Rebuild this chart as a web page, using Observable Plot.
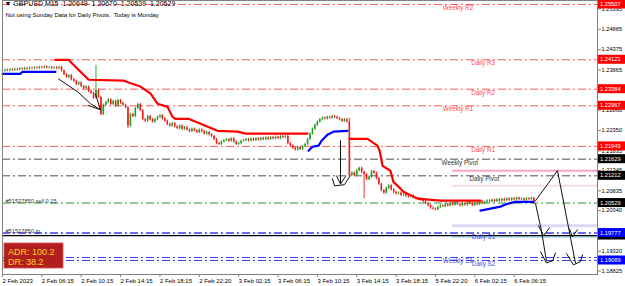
<!DOCTYPE html>
<html><head><meta charset="utf-8">
<script src="https://cdn.jsdelivr.net/npm/d3@7"></script>
<script src="https://cdn.jsdelivr.net/npm/@observablehq/plot@0.6"></script>
<style>
html,body{margin:0;padding:0;background:#fff;}
#chart svg{display:block;}
</style></head><body><div id="chart"></div>
<script>
// ---------- DATA ----------
// prices are written in pips above 1.20000
const toPrice = p => 1.2 + p / 10000;
const titleText = "\u25BC GBPUSD,M15  1.20649  1.20670  1.20529  1.20529";
const noteText = "Not using Sunday Data for Daily Pivots.  Today is Monday";

const firstOpen = 383;
const closes = [
  384,386,385,387,386,388,387,389,388,390,389,391,390,392,391,393,392,394,392,393,391,392,390,
  393,384,375,368,
  372,362,358,350,354,345,340,344,333,328,316,335,
  318,275,298,305,
  312,300,308,296,310,303,298,292,
  246,275,270,
  290,300,285,262,258,270,262,
  256,262,268,272,264,258,250,246,252,244,240,246,238,242,236,232,238,234,230,236,
  232,226,230,224,220,212,202,200,206,210,
  212,208,214,206,200,202,208,210,212,209,213,210,214,211,215,212,216,213,217,214,218,215,219,217,220,
  202,
  196,190,186,192,188,194,
  200,212,226,238,248,256,
  262,266,264,268,266,270,268,265,262,258,262,256,
  122,
  128,122,134,140,130,124,
  112,118,132,128,114,100,84,78,90,96,86,
  80,76,78,72,74,70,68,71,66,64,62,60,56,52,46,40,38,36,42,46,
  44,50,46,52,48,54,50,46,52,48,55,51,47,53,49,56,52,
  55,58,56,60,57,61,58,62,59,63,60,64,61,65,62,63,60,64,62,64.9,52.9
];
const spikeHigh = {38: 398, 116: 226, 141: 266, 216: 67};
const spikeLow = {51: 240, 141: 118, 147: 63};
const wickPips = 3;

// supertrend segments: [bar, pips]
const redTrend = [
  [[21.5,412],[26.8,412],[31.7,382],[35,362],[49.2,360],[51.2,355],[56.1,345],[60.2,327],[63,302],[67.1,294],[69.1,269],[70.3,264],[75.6,264],[87.4,234],[95.5,232],[98.8,227],[124,227]],
  [[141.1,214],[148.4,214],[152.4,197],[153.3,184],[154.5,146],[157.7,134],[158.9,106],[161.8,89],[163,81],[168.7,64],[178,59],[194.3,59]]
];
const blueTrend = [
  [[0,377],[7.3,377],[8.1,382],[21.5,382]],
  [[124.4,184],[126,194],[128.5,197],[129.7,209],[132.1,224],[134.6,232],[140.2,234]],
  [[194.3,34],[198.4,39],[202.4,44],[205.3,51],[208.5,56],[215.9,56]]
];

// pivot levels
const pivotNames  = ["Weekly R2","Daily R3","Daily R2","Weekly R1","Daily R1","Weekly Pivot","Daily Pivot","Daily S1","Weekly S1","Daily S2"];
const pivotValues = [1.25507,1.24121,1.23384,1.22967,1.21949,1.21629,1.21212,1.19777,1.19165,1.19089];
const pivotKinds  = ["R","R","R","R","R","P","P","S","S","S"];
const pivotLabelBar = [179,190.5,190.5,179,190.5,178.5,189.8,190.8,179,190.8];

// order lines
const orderNames = ["#51527850 sell 0.15", "#51527850 tp"];
const orderValues = [1.20529, 1.19777];
const blackLineValue = 1.19715;

// Monday zones (from first Monday bar)
const zoneStartBar = 183;
const zoneValues = [1.21339, 1.20963, 1.19960, 1.19680];
const zoneColors = ["#f6a3c6", "#fcdce3", "#d9d9f7", "#a9d8ee"];
const zoneWidths = [2, 2, 3, 1.5];

// right-axis price boxes (the black 1.19715 box sits under the blue one)
const boxValues = [1.25507,1.24121,1.23384,1.22967,1.21949,1.21629,1.21212,1.20529,1.19715,1.19777,1.19089];
const boxColors = ["#ff0000","#ff0000","#ff0000","#ff0000","#ff0000","#000000","#000000","#000000","#000000","#0000ff","#0000ff"];
const boxHasText = [1,1,1,1,1,1,1,1,0,1,1];

// axis ticks
const yTicks = [1.25395,1.24885,1.24375,1.23865,1.22860,1.22350,1.21835,1.21345,1.20835,1.20340,1.19320,1.18825];
const xTickBars = [0,16,32,48,64,80,96,112,128,144,160,176,192,208];
const xTickLabels = ["2 Feb 2023","2 Feb 06:15","2 Feb 10:15","2 Feb 14:15","2 Feb 18:15","2 Feb 22:20","3 Feb 02:15","3 Feb 06:15","3 Feb 10:15","3 Feb 14:15","3 Feb 18:15","5 Feb 22:20","6 Feb 02:15","6 Feb 06:15"];

// hand-drawn arrows: [bar, pips]
const arrows = [
  [[22.8,364],[30.5,332],[35.8,302],[39.8,287]],
  [[37.8,326],[39.8,287]],
  [[35,297],[39.8,287]],
  [[137.4,209],[137.4,101]],
  [[135.8,121],[137.4,101],[139.4,119]],
  [[134.1,114],[135,96],[139,99],[141.1,119]],
  [[216.7,59],[225.6,134],[232.9,-97]],
  [[230.5,-12],[231.7,-32],[233.7,-14]],
  [[229.3,-74],[232.1,-102],[234.9,-94],[235.8,-77]],
  [[216.7,51],[219.1,-17],[221.1,-92]],
  [[217.9,-4],[219.9,-29],[222.4,-9]],
  [[218.7,-69],[221.1,-97],[223.6,-92],[224.8,-72]]
];

const adrLines = ["ADR: 100.2", "DR: 38.2"];

// ---------- BUILD ----------
const GREEN = "#1e9e1e", RED = "#f01c1c";
const candles = closes.map((c, i) => {
  const o = i === 0 ? firstOpen : closes[i - 1];
  const hi = spikeHigh[i] ?? Math.max(o, c) + wickPips;
  const lo = spikeLow[i] ?? Math.min(o, c) - wickPips;
  return {i, o: toPrice(o), c: toPrice(c), hi: toPrice(hi), lo: toPrice(lo), col: c >= o ? GREEN : RED};
});
const seg = (list) => list.flatMap((s, k) => s.map(([b, p]) => ({b, v: toPrice(p), k})));
const redPts = seg(redTrend), bluePts = seg(blueTrend), arrowPts = seg(arrows);

const pivColor = {R: "#ff5a5a", P: "#505050", S: "#3a3ae0"};
const pivText = {R: "#ff4a4a", P: "#333333", S: "#3f4fe0"};
const pivots = pivotNames.map((n, k) => ({n, v: pivotValues[k], kind: pivotKinds[k], lb: pivotLabelBar[k]}));
const orders = orderNames.map((n, k) => ({n, v: orderValues[k], col: k === 0 ? "#2a9a2a" : "#3a3ae0"}));
const zones = zoneValues.map((v, k) => ({v, col: zoneColors[k], w: zoneWidths[k]}));

const XMAX = 595 / 2.46;
const FONT = "'Liberation Sans', Arial, sans-serif";

const chart = Plot.plot({
  width: 625, height: 286,
  marginLeft: 2, marginRight: 28, marginTop: 0, marginBottom: 12,
  x: {domain: [0, XMAX], axis: null},
  y: {domain: [1.18738, 1.25607], axis: null},
  color: {type: "identity"},
  style: {fontFamily: FONT, fontSize: "6px", background: "#fff", overflow: "visible"},
  marks: [
    Plot.ruleY(zones, {y: "v", x1: zoneStartBar, x2: XMAX, stroke: "col", strokeWidth: d => d.w}),
    Plot.ruleY(pivots, {y: "v", stroke: d => pivColor[d.kind], strokeWidth: 1, strokeDasharray: "8,3,2,3"}),
    Plot.ruleY(orders, {y: "v", stroke: "col", strokeWidth: 1, strokeDasharray: "8,3,2,3"}),
    Plot.ruleY([blackLineValue], {stroke: "#000", strokeWidth: 1.2}),
    Plot.ruleX(candles, {x: "i", y1: "lo", y2: "hi", stroke: "col", strokeWidth: 0.9}),
    Plot.ruleX(candles, {x: "i", y1: "o", y2: "c", stroke: "col", strokeWidth: 1.6}),
    Plot.line(redPts, {x: "b", y: "v", z: "k", stroke: "#ff0000", strokeWidth: 2.2}),
    Plot.line(bluePts, {x: "b", y: "v", z: "k", stroke: "#0000ff", strokeWidth: 2.2}),
    Plot.line(arrowPts, {x: "b", y: "v", z: "k", stroke: "#111", strokeWidth: 1}),
    Plot.text(pivots, {x: "lb", y: "v", text: "n", fill: d => pivText[d.kind], textAnchor: "start", lineAnchor: "top", dy: 1, fontSize: 6.3}),
    Plot.text(orders, {x: 1.2, y: "v", text: "n", fill: "#333", textAnchor: "start", lineAnchor: "bottom", dy: -0.3, fontSize: 5.7}),
    Plot.text([titleText], {frameAnchor: "top-left", text: d => d, dx: 2, dy: 1, lineAnchor: "top", fill: "#000", fontSize: 7}),
    Plot.text([noteText], {frameAnchor: "top-left", text: d => d, dx: 3, dy: 12, lineAnchor: "top", fill: "#000", fontSize: 6}),
    Plot.frame({stroke: "#808080"}),
    Plot.axisX({ticks: xTickBars, tickFormat: d => xTickLabels[xTickBars.indexOf(d)], tickSize: 3, tickPadding: 1, textAnchor: "start", fontSize: 6, stroke: "#808080", fill: "#000"}),
    Plot.axisY({anchor: "right", ticks: yTicks, tickFormat: d => d.toFixed(5), tickSize: 3, tickPadding: 1, fontSize: 5.7, stroke: "#808080", fill: "#000"})
  ]
});

// right-axis price boxes and ADR panel, placed with Plot's own y scale
const ys = chart.scale("y");
const svg = d3.select(chart);
const g = svg.append("g").attr("font-family", FONT).attr("text-anchor", "start");
boxValues.forEach((v, k) => {
  const y = ys.apply(v);
  g.append("rect").attr("x", 598).attr("y", y - 4.5).attr("width", 27).attr("height", 9).attr("fill", boxColors[k]);
  if (boxHasText[k]) g.append("text").attr("x", 600).attr("y", y).attr("dy", "0.35em").attr("text-anchor", "start").attr("font-size", 5.7).attr("fill", "#fff").text(v.toFixed(5));
});
const adr = svg.append("g").attr("font-family", FONT).attr("text-anchor", "start");
adr.append("rect").attr("x", 4).attr("y", 243).attr("width", 59).attr("height", 25).attr("fill", "#b21e1e").attr("stroke", "#d85050").attr("stroke-width", 0.8);
adrLines.forEach((t, k) => {
  adr.append("text").attr("x", 8).attr("y", 251.5 + k * 10).attr("dy", "0.35em").attr("text-anchor", "start").attr("font-size", 9).attr("fill", "#ffd21e").text(t);
});

document.getElementById("chart").appendChild(chart);
</script>
</body></html>
